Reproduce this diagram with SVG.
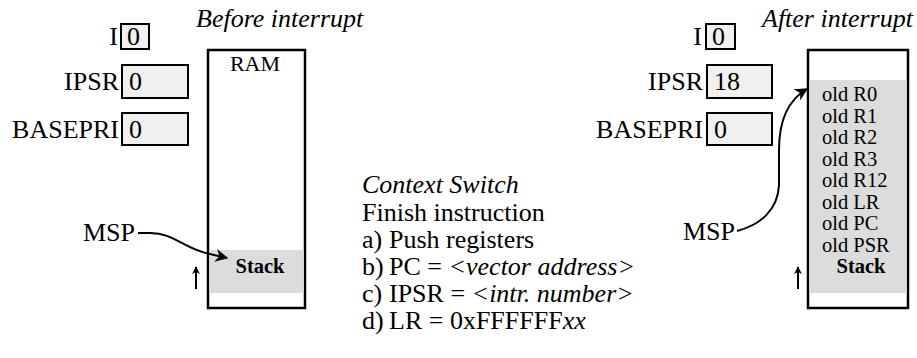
<svg xmlns="http://www.w3.org/2000/svg" width="917" height="358" viewBox="0 0 917 358">
<defs>
<marker id="ah" viewBox="0 0 10 10" refX="9" refY="5" markerWidth="8" markerHeight="8" markerUnits="userSpaceOnUse" orient="auto">
<path d="M0,0 L10,5 L0,10 L3,5 Z" fill="#000"/>
</marker>
<marker id="ah2" viewBox="0 0 10 10" refX="9" refY="5" markerWidth="13" markerHeight="13" markerUnits="userSpaceOnUse" orient="auto">
<path d="M0,0 L10,5 L0,10 L3,5 Z" fill="#000"/>
</marker>
</defs>
<style>
text{font-family:"Liberation Serif","Times New Roman",serif;font-size:26px;fill:#000}
.it{font-style:italic}
.b{font-weight:bold}
.sm{font-size:20.5px}
.ram-t{font-size:22px}
.reg{fill:#f0f0f0;stroke:#000;stroke-width:2}
.ram{fill:#fff;stroke:#000;stroke-width:2.5}
.stk{fill:#dcdcdc}
.con{fill:none;stroke:#000;stroke-width:2}
.r{text-anchor:end}
.c{text-anchor:middle}
</style>
<rect width="917" height="358" fill="#fff"/>

<text class="it" x="196" y="27">Before interrupt</text>
<g id="I-before"><text class="r" x="118" y="45">I</text><rect class="reg" x="121" y="24" width="28" height="25"/><text x="127" y="45">0</text></g>
<g id="IPSR-before"><text class="r" x="119" y="90">IPSR</text><rect class="reg" x="122" y="65" width="66" height="33"/><text x="129" y="90">0</text></g>
<g id="BASEPRI-before"><text class="r" x="119" y="138">BASEPRI</text><rect class="reg" x="122" y="113" width="66" height="32"/><text x="129" y="138">0</text></g>
<g id="RAM-before">
<rect class="ram" x="208" y="50" width="97" height="258"/>
<rect class="stk" x="209.25" y="250" width="94.5" height="43"/>
<text class="ram-t c" x="255" y="71">RAM</text>
<text class="b sm c" x="260" y="273">Stack</text>
</g>
<g id="MSP-before"><text x="83" y="241">MSP</text></g>

<g id="context-switch">
<text class="it" x="362" y="193">Context Switch</text>
<text x="362" y="221">Finish instruction</text>
<text x="362" y="248">a)</text><text x="389" y="248">Push registers</text>
<text x="362" y="275">b)</text><text x="389" y="275">PC = <tspan class="it">&lt;vector address&gt;</tspan></text>
<text x="362" y="302">c)</text><text x="389" y="302">IPSR = <tspan class="it">&lt;intr. number&gt;</tspan></text>
<text x="362" y="329">d)</text><text x="389" y="329">LR = 0xFFFFFF<tspan class="it">xx</tspan></text>
</g>

<text class="it" x="762" y="27">After interrupt</text>
<g id="I-after"><text class="r" x="702" y="45">I</text><rect class="reg" x="706" y="24" width="29" height="25"/><text x="712" y="45">0</text></g>
<g id="IPSR-after"><text class="r" x="703" y="90">IPSR</text><rect class="reg" x="707" y="65" width="65" height="33"/><text x="714" y="90">18</text></g>
<g id="BASEPRI-after"><text class="r" x="703" y="138">BASEPRI</text><rect class="reg" x="707" y="113" width="65" height="32"/><text x="714" y="138">0</text></g>
<g id="RAM-after">
<rect class="ram" x="808" y="50" width="100" height="258"/>
<rect class="stk" x="809.25" y="80" width="97.5" height="213"/>
<text class="sm" x="822" y="101">old R0</text>
<text class="sm" x="822" y="122.5">old R1</text>
<text class="sm" x="822" y="144">old R2</text>
<text class="sm" x="822" y="165.5">old R3</text>
<text class="sm" x="822" y="187">old R12</text>
<text class="sm" x="822" y="208.5">old LR</text>
<text class="sm" x="822" y="230">old PC</text>
<text class="sm" x="822" y="251.5">old PSR</text>
<text class="b sm c" x="861" y="273">Stack</text>
</g>
<g id="MSP-after"><text x="683" y="240">MSP</text></g>

<g id="connectors">
<path class="con" d="M138,233 L150,233 C175,233 185,250 210,254 L227,258" marker-end="url(#ah2)"/>
<path class="con" d="M196,289 L196,267" marker-end="url(#ah)"/>
<path class="con" d="M737,231 C760,225 778,210 779,185 L779,150 C779,120 788,100 807,89" marker-end="url(#ah2)"/>
<path class="con" d="M798,289 L798,267" marker-end="url(#ah)"/>
</g>
</svg>
